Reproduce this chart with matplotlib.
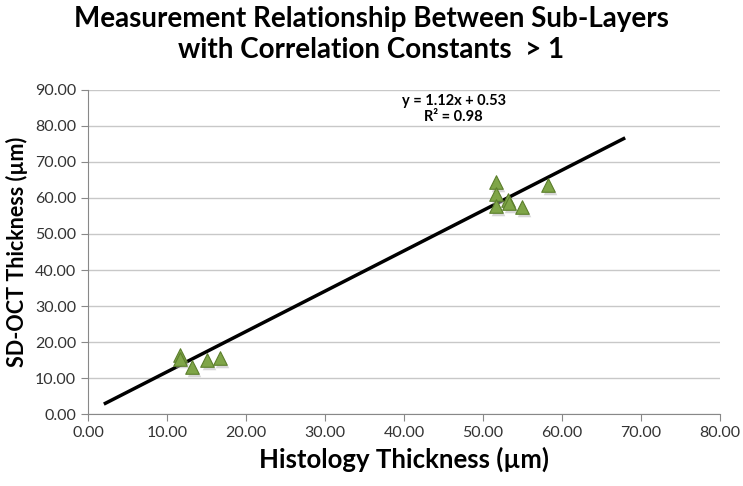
import numpy as np
import matplotlib
matplotlib.use("Agg")
import matplotlib.pyplot as plt

plt.rcParams['font.family'] = ['Lato', 'DejaVu Sans']

# histology vs SD-OCT thickness (um)
histology = [11.6, 11.7, 13.2, 15.1, 16.7,
             51.6, 51.6, 51.6, 53.2, 53.3, 54.9, 58.2]
sdoct = [16.3, 15.4, 13.1, 15.0, 15.5,
         64.3, 61.2, 57.8, 59.4, 58.7, 57.5, 63.7]
slope, intercept = 1.12, 0.53
fit_range = [2.0, 68.0]

xticks = np.arange(0, 81, 10)
yticks = np.arange(0, 91, 10)

fig = plt.figure(figsize=(7.43, 4.86), dpi=100)
ax = fig.add_axes([0.1185, 0.148, 0.8505, 0.667])

ax.grid(axis='y', color='#c8c8c8', lw=1.0)
ax.set_axisbelow(True)

# trendline
xf = np.array(fit_range)
ax.plot(xf, slope * xf + intercept, color='black', lw=2.5, zorder=3,
        solid_capstyle='butt')

# shadow + markers
ax.scatter(np.array(histology) + 0.25, np.array(sdoct) - 0.8, marker='^', s=95,
           color='#b0b0b0', alpha=0.5, lw=0, zorder=3)
ax.scatter(histology, sdoct, marker='^', s=95, color='#7fa548',
           edgecolor='#5c7f2c', lw=0.8, zorder=4)

ax.set_xlim(0, 80)
ax.set_ylim(0, 90)
ax.set_xticks(xticks)
ax.set_yticks(yticks)
ax.set_xticklabels(['%.2f' % v for v in xticks])
ax.set_yticklabels(['%.2f' % v for v in yticks])
ax.tick_params(labelsize=11.5, colors='#333333', length=5, direction='out')
ax.tick_params(axis='both', color='#888888')

for s in ['top', 'right']:
    ax.spines[s].set_visible(False)
for s in ['left', 'bottom']:
    ax.spines[s].set_color('#888888')

ax.set_xlabel('Histology Thickness (µm)', fontsize=18.5, fontweight='bold', labelpad=5)
ax.set_ylabel('SD-OCT Thickness (µm)', fontsize=15.5, fontweight='bold', labelpad=5)

ax.text(46.3, 86.8, 'y = 1.12x + 0.53', ha='center', va='center',
        fontsize=10.5, fontweight='bold')
ax.text(46.3, 82.6, 'R² = 0.98', ha='center', va='center',
        fontsize=10.5, fontweight='bold')

fig.suptitle('Measurement Relationship Between Sub-Layers\nwith Correlation Constants  > 1',
             fontsize=20, fontweight='bold', y=0.988, va='top', linespacing=1.25)

fig.savefig('out.png', dpi=100)
